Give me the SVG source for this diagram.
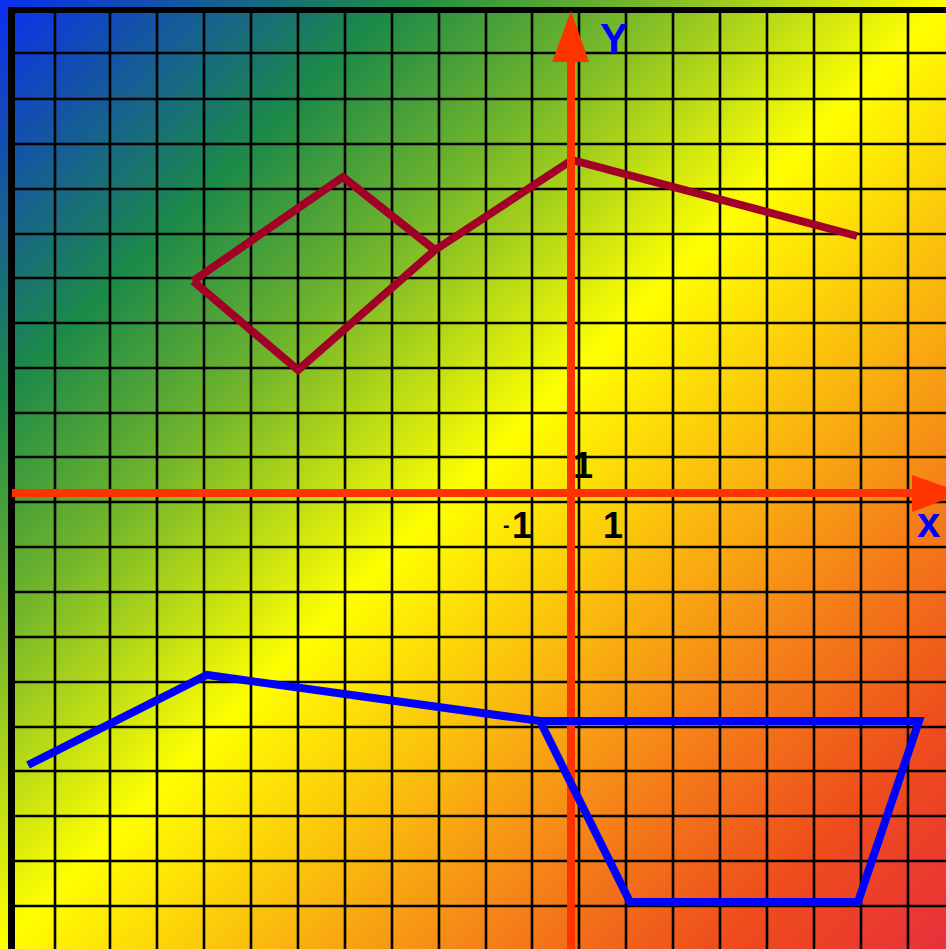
<svg xmlns="http://www.w3.org/2000/svg" width="946" height="949" viewBox="0 0 946 949">
<defs>
<linearGradient id="bg" gradientUnits="userSpaceOnUse" x1="0" y1="0" x2="946" y2="949">
<stop offset="0" stop-color="#0a2ef2"/>
<stop offset="0.1" stop-color="#15589e"/>
<stop offset="0.21" stop-color="#1c8a48"/>
<stop offset="0.33" stop-color="#6fb42c"/>
<stop offset="0.5" stop-color="#ffff00"/>
<stop offset="0.62" stop-color="#fbc20c"/>
<stop offset="0.75" stop-color="#f58218"/>
<stop offset="0.88" stop-color="#ee4c1c"/>
<stop offset="1" stop-color="#e8303a"/>
</linearGradient>
<style>
.grid{stroke:#000;stroke-width:2.6;fill:none}
.axis{stroke:#ff3300;stroke-width:8;fill:none}
.head{fill:#ff3300}
.red{stroke:#a30028;stroke-width:8;fill:none;stroke-linejoin:miter}
.blue{stroke:#0000ff;stroke-width:8;fill:none;stroke-linejoin:miter}
.num{font-family:"Liberation Sans",Arial,sans-serif;font-weight:bold;fill:#000}
.lab{font-family:"Liberation Sans",Arial,sans-serif;font-weight:bold;fill:#0000ff}
</style>
</defs>
<rect x="0" y="0" width="946" height="949" fill="url(#bg)"/>
<g id="grid" class="grid">
<path d="M55 10V949M110 10V949M157 10V949M204 10V949M251 10V949M298 10V949M345 10V949M392 10V949M439 10V949M486 10V949M532 10V949M579 10V949M626 10V949M673 10V949M720 10V949M767 10V949M814 10V949M861 10V949M908 10V949"/>
<path d="M11 53H946M11 99H946M11 144H946M11 189H946M11 234H946M11 278H946M11 323H946M11 368H946M11 413H946M11 457H946M11 502H946M11 547H946M11 592H946M11 637H946M11 682H946M11 727H946M11 771H946M11 816H946M11 861H946M11 906H946"/>
<path d="M11.5 7V949" stroke-width="7"/>
<path d="M8 10H946" stroke-width="6"/>
</g>
<g id="red-shape">
<polyline class="red" points="193,281 343,177 435,250 298,370 193,281"/>
<polyline class="red" points="435,250 572,160 857,236"/>
</g>
<g id="axes">
<line class="axis" x1="571" y1="60" x2="571" y2="949"/>
<polygon class="head" points="571,11 552,62 589,62"/>
<line class="axis" x1="12" y1="493" x2="914" y2="493" stroke-width="7"/>
<polygon class="head" points="963,493 912,475 912,512"/>
</g>
<g id="blue-shape">
<polyline class="blue" points="28,765 207,675 540,721"/>
<polyline class="blue" points="540,721 919,721 858,902 630,902 540,721"/>
</g>
<g id="labels">
<text class="lab" x="600" y="53" font-size="42">Y</text>
<text class="lab" x="917" y="537" font-size="42">x</text>
<text class="num" x="573" y="478" font-size="36">1</text>
<text class="num" x="503" y="532" font-size="20">-</text>
<text class="num" x="512" y="538" font-size="36">1</text>
<text class="num" x="603" y="538" font-size="36">1</text>
</g>
</svg>
